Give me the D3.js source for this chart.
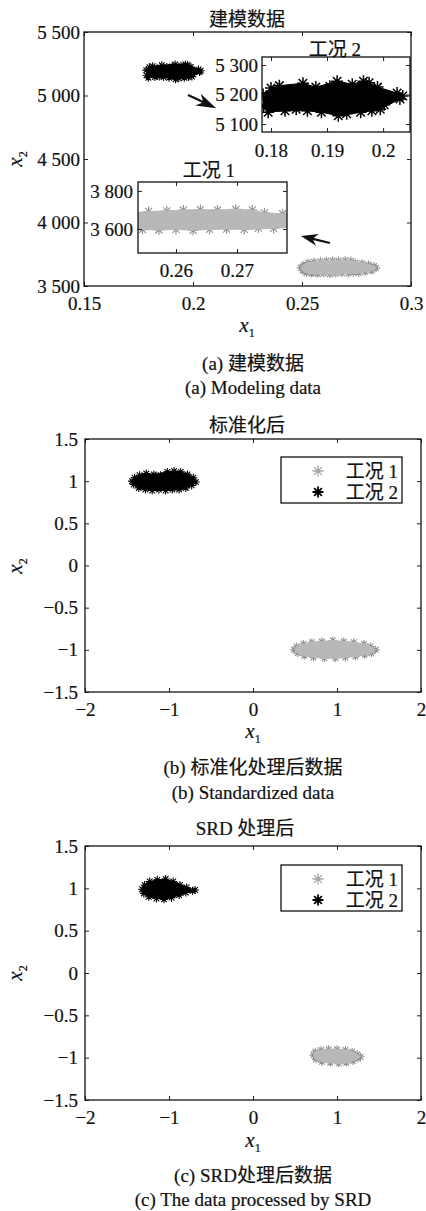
<!DOCTYPE html>
<html>
<head>
<meta charset="utf-8">
<script src="https://cdn.jsdelivr.net/npm/d3@7"></script>
<style>
body { margin: 0; background: #fff; }
svg text { font-family: "Liberation Serif", "Noto Sans CJK SC", serif; font-size: 19px; fill: #111; stroke: #111; stroke-width: 0.2px; }
</style>
</head>
<body>
<div id="chart"></div>
<script>
// --- data, [x1, x2] ---
// (a) modeling data, raw units
var rawCase1 = [
  [0.2495, 3645], [0.2503, 3620], [0.2508, 3668], [0.2520, 3603], [0.2528, 3685],
  [0.2545, 3597], [0.2555, 3692], [0.2572, 3595], [0.2585, 3695], [0.2600, 3598],
  [0.2612, 3700], [0.2628, 3593], [0.2640, 3702], [0.2655, 3598], [0.2668, 3700],
  [0.2683, 3600], [0.2698, 3703], [0.2712, 3598], [0.2725, 3700], [0.2735, 3605],
  [0.2745, 3685], [0.2760, 3603], [0.2775, 3680], [0.2790, 3610], [0.2805, 3670],
  [0.2820, 3620], [0.2830, 3658], [0.2840, 3640],
  [0.2530, 3645], [0.2560, 3650], [0.2590, 3640], [0.2620, 3655], [0.2650, 3645],
  [0.2680, 3655], [0.2710, 3650], [0.2740, 3645], [0.2770, 3640], [0.2800, 3642],
  [0.2575, 3670], [0.2635, 3620], [0.2695, 3675], [0.2725, 3625], [0.2660, 3678],
  [0.2605, 3672]
];
var rawCase2 = [
  [0.1786, 5200], [0.1787, 5160], [0.1795, 5140], [0.1800, 5222], [0.1815, 5230],
  [0.1825, 5145], [0.1835, 5215], [0.1845, 5150], [0.1857, 5238], [0.1865, 5145],
  [0.1880, 5225], [0.1890, 5140], [0.1905, 5228], [0.1918, 5245], [0.1920, 5128],
  [0.1935, 5135], [0.1945, 5235], [0.1960, 5140], [0.1965, 5245], [0.1980, 5145],
  [0.1975, 5240], [0.1990, 5225], [0.1995, 5150], [0.2005, 5185], [0.2002, 5165],
  [0.2025, 5205], [0.2035, 5195], [0.2030, 5185],
  [0.1810, 5180], [0.1840, 5190], [0.1870, 5185], [0.1900, 5190], [0.1930, 5195],
  [0.1950, 5185], [0.1970, 5200], [0.1990, 5190], [0.1920, 5170], [0.1960, 5170],
  [0.1860, 5205], [0.1940, 5215], [0.1820, 5200], [0.1890, 5170], [0.1985, 5170]
];
// (b) after standardization
var stdCase1 = [
  [0.49, -1.00], [0.52, -0.96], [0.53, -1.04], [0.60, -0.93], [0.61, -1.07],
  [0.70, -0.91], [0.72, -1.09], [0.82, -0.90], [0.85, -1.10], [0.95, -0.89],
  [0.98, -1.10], [1.08, -0.90], [1.10, -1.09], [1.20, -0.91], [1.22, -1.08],
  [1.32, -0.93], [1.33, -1.06], [1.40, -0.96], [1.41, -1.04], [1.46, -1.00],
  [0.65, -1.00], [0.80, -1.00], [0.95, -1.00], [1.10, -1.00], [1.25, -1.00],
  [0.88, -0.96], [1.02, -1.04], [1.15, -0.95]
];
var stdCase2 = [
  [-1.44, 1.00], [-1.42, 0.96], [-1.41, 1.04], [-1.36, 0.92], [-1.35, 1.07],
  [-1.28, 0.90], [-1.27, 1.09], [-1.20, 0.89], [-1.18, 1.08], [-1.12, 0.90],
  [-1.10, 1.07], [-1.04, 0.89], [-1.02, 1.11], [-0.96, 0.90], [-0.94, 1.12],
  [-0.88, 0.90], [-0.86, 1.11], [-0.80, 0.92], [-0.78, 1.08], [-0.73, 0.95],
  [-0.71, 1.04], [-0.68, 0.99],
  [-1.30, 1.00], [-1.15, 0.99], [-1.00, 1.00], [-0.85, 1.01], [-1.22, 1.03],
  [-0.92, 0.96], [-1.08, 0.95], [-0.80, 1.02]
];
// (c) after SRD
var srdCase1 = [
  [0.72, -0.97], [0.74, -0.93], [0.75, -1.02], [0.81, -0.91], [0.82, -1.05],
  [0.90, -0.90], [0.92, -1.06], [1.00, -0.90], [1.02, -1.07], [1.10, -0.91],
  [1.11, -1.06], [1.18, -0.93], [1.19, -1.04], [1.24, -0.96], [1.25, -1.01],
  [1.28, -0.99],
  [0.85, -0.98], [0.98, -0.98], [1.10, -0.99], [0.95, -0.95], [1.05, -1.02]
];
var srdCase2 = [
  [-1.32, 0.99], [-1.30, 0.94], [-1.29, 1.04], [-1.24, 0.90], [-1.23, 1.08],
  [-1.15, 0.88], [-1.14, 1.10], [-1.06, 0.87], [-1.04, 1.11], [-0.97, 0.89],
  [-0.95, 1.08], [-0.88, 0.92], [-0.87, 1.04], [-0.80, 0.95], [-0.79, 1.01],
  [-0.72, 0.97], [-0.69, 0.98],
  [-1.20, 0.99], [-1.10, 1.00], [-1.00, 0.99], [-0.92, 0.98], [-1.15, 1.04],
  [-1.05, 0.94]
];

// tick values
var rawTicksX = [0.15, 0.2, 0.25, 0.3];
var rawTicksY = [3500, 4000, 4500, 5000, 5500];
var zoom1TicksX = [0.26, 0.27];
var zoom1TicksY = [3600, 3800];
var zoom2TicksX = [0.18, 0.19, 0.2];
var zoom2TicksY = [5100, 5200, 5300];
var normTicksX = [-2, -1, 0, 1, 2];
var normTicksY = [-1.5, -1, -0.5, 0, 0.5, 1, 1.5];

var caseNames = ['工况 1', '工况 2'];

var GRAY = {fill: '#b8b8b8', stroke: '#8e8e8e', r: 4, w: 1.1};
var BLACK = {fill: '#000', stroke: '#000', r: 4, w: 1.1};

var svg = d3.select('#chart').append('svg')
    .attr('width', 426)
    .attr('height', 1211);

var numFmt = d3.format('');
var spaceFmt = function(d){ return d3.format(',')(d).replace(',', ' '); };
var blank = function(){ return ''; };

function starPath(r){
    var k = r * 0.7071;
    return 'M' + (-r) + ',0L' + r + ',0M0,' + (-r) + 'L0,' + r +
        'M' + (-k) + ',' + (-k) + 'L' + k + ',' + k +
        'M' + (-k) + ',' + k + 'L' + k + ',' + (-k);
}

// asterisks first, then a fill over the Delaunay triangles whose edges are short,
// so only the spikes of the outer markers stick out
function drawCloud(g, data, xs, ys, style, maxEdge){
    var pts = data.map(function(d){ return [xs(d[0]), ys(d[1])]; });
    g.selectAll(null)
        .data(pts)
        .enter()
        .append('path')
        .attr('transform', function(d){ return 'translate(' + d[0] + ',' + d[1] + ')'; })
        .attr('d', starPath(style.r))
        .attr('fill', 'none')
        .attr('stroke', style.stroke)
        .attr('stroke-width', style.w);
    var tri = d3.Delaunay.from(pts).triangles, d = '';
    for (var i = 0; i < tri.length; i += 3){
        var a = pts[tri[i]], b = pts[tri[i + 1]], c = pts[tri[i + 2]];
        var m = Math.max(Math.hypot(a[0] - b[0], a[1] - b[1]),
                         Math.hypot(b[0] - c[0], b[1] - c[1]),
                         Math.hypot(c[0] - a[0], c[1] - a[1]));
        if (m < maxEdge) d += 'M' + a + 'L' + b + 'L' + c + 'Z';
    }
    g.append('path')
        .attr('d', d)
        .attr('fill', style.fill)
        .attr('stroke', style.fill)
        .attr('stroke-width', 1)
        .attr('stroke-linejoin', 'round');
}

// box with inward ticks on all four sides
function drawFrame(g, xs, ys, tx, ty, fx, fy, padX, padY){
    var xr = xs.range(), yr = ys.range();
    g.append('g').attr('transform', 'translate(0,' + yr[0] + ')')
        .call(d3.axisBottom(xs).tickValues(tx).tickFormat(fx).tickSizeInner(-4).tickSizeOuter(0).tickPadding(padX));
    g.append('g').attr('transform', 'translate(0,' + yr[1] + ')')
        .call(d3.axisTop(xs).tickValues(tx).tickFormat(blank).tickSizeInner(-4).tickSizeOuter(0));
    g.append('g').attr('transform', 'translate(' + xr[0] + ',0)')
        .call(d3.axisLeft(ys).tickValues(ty).tickFormat(fy).tickSizeInner(-4).tickSizeOuter(0).tickPadding(padY));
    g.append('g').attr('transform', 'translate(' + xr[1] + ',0)')
        .call(d3.axisRight(ys).tickValues(ty).tickFormat(blank).tickSizeInner(-4).tickSizeOuter(0));
    g.selectAll('.domain').remove();
    g.selectAll('.tick line').attr('stroke', '#222');
    g.selectAll('g').attr('font-family', null).attr('font-size', null);
    g.selectAll('.tick text').attr('fill', '#111');
    g.append('rect')
        .attr('x', xr[0]).attr('y', yr[1])
        .attr('width', xr[1] - xr[0]).attr('height', yr[0] - yr[1])
        .attr('fill', 'none').attr('stroke', '#111').attr('stroke-width', 1.3);
}

function label(x, y, str){
    return svg.append('text').attr('x', x).attr('y', y).attr('text-anchor', 'middle').text(str);
}

function axisName(x, y, sub, rotate){
    var t = svg.append('text').attr('text-anchor', 'middle')
        .attr('transform', 'translate(' + x + ',' + y + ')' + (rotate ? ' rotate(-90)' : ''));
    t.append('tspan').attr('font-style', 'italic').attr('font-size', '21px').text('x');
    t.append('tspan').attr('font-size', '12px').attr('dy', 5).text(sub);
}

function arrow(xs, ys, from, to, len, wid){
    var x0 = xs(from[0]), y0 = ys(from[1]), x1 = xs(to[0]), y1 = ys(to[1]);
    var a = Math.atan2(y1 - y0, x1 - x0) * 180 / Math.PI;
    var g = svg.append('g').attr('transform', 'translate(' + x1 + ',' + y1 + ') rotate(' + a + ')');
    var L = Math.hypot(x1 - x0, y1 - y0);
    g.append('line').attr('x1', -L).attr('x2', -len * 0.6).attr('y1', 0).attr('y2', 0)
        .attr('stroke', '#111').attr('stroke-width', 2.2);
    g.append('path')
        .attr('d', 'M0,0L' + (-len) + ',' + (-wid / 2) + 'L' + (-len * 0.7) + ',0L' + (-len) + ',' + (wid / 2) + 'Z')
        .attr('fill', '#111');
}

function legend(x, y){
    var g = svg.append('g');
    g.append('rect').attr('x', x).attr('y', y).attr('width', 121).attr('height', 46)
        .attr('fill', '#fff').attr('stroke', '#111').attr('stroke-width', 1.3);
    [GRAY, BLACK].forEach(function(s, i){
        g.append('path')
            .attr('transform', 'translate(' + (x + 37) + ',' + (y + 14 + i * 21) + ')')
            .attr('d', starPath(5.5))
            .attr('fill', 'none')
            .attr('stroke', i ? '#000' : '#a3a3a3')
            .attr('stroke-width', i ? 1.8 : 1.3);
        g.append('text').attr('x', x + 117).attr('y', y + 21 + i * 21)
            .attr('text-anchor', 'end').text(caseNames[i]);
    });
}

// ---------- (a) modeling data ----------
var ax = d3.scaleLinear().domain([0.15, 0.3]).range([84, 411]);
var ay = d3.scaleLinear().domain([3500, 5500]).range([286, 32]);
var ga = svg.append('g');
drawCloud(ga, rawCase2, ax, ay, BLACK, 20);
drawCloud(ga, rawCase1, ax, ay, GRAY, 20);
drawFrame(ga, ax, ay, rawTicksX, rawTicksY, numFmt, spaceFmt, 10.5, 4);
label(247, 26, '建模数据');
axisName(22, 159, '2', true);
axisName(247, 332, '1', false);
label(253, 370, '(a) 建模数据');
label(253, 394, '(a) Modeling data');

arrow(ax, ay, [0.1977, 5004], [0.2106, 4900], 20, 13);
arrow(ax, ay, [0.2628, 3839], [0.2495, 3894], 17, 12);

// inset: case 2
var i2x = d3.scaleLinear().domain([0.1784, 0.2048]).range([262, 410]);
var i2y = d3.scaleLinear().domain([5073, 5327]).range([132, 57]);
var gi2 = svg.append('g');
gi2.append('rect').attr('x', 262).attr('y', 57).attr('width', 148).attr('height', 75).attr('fill', '#fff');
svg.append('clipPath').attr('id', 'clip2').append('rect').attr('x', 262).attr('y', 57).attr('width', 148).attr('height', 75);
drawCloud(gi2.append('g').attr('clip-path', 'url(#clip2)'), rawCase2, i2x, i2y,
    {fill: '#000', stroke: '#000', r: 6, w: 1.5}, 26);
drawFrame(gi2, i2x, i2y, zoom2TicksX, zoom2TicksY, numFmt, spaceFmt, 11.5, 4);
label(335, 56, '工况 2');

// inset: case 1
var i1x = d3.scaleLinear().domain([0.25377, 0.2782]).range([138, 287]);
var i1y = d3.scaleLinear().domain([3474, 3847]).range([253, 182]);
var gi1 = svg.append('g');
gi1.append('rect').attr('x', 138).attr('y', 182).attr('width', 149).attr('height', 71).attr('fill', '#fff');
svg.append('clipPath').attr('id', 'clip1').append('rect').attr('x', 138).attr('y', 182).attr('width', 149).attr('height', 71);
drawCloud(gi1.append('g').attr('clip-path', 'url(#clip1)'), rawCase1, i1x, i1y,
    {fill: '#b8b8b8', stroke: '#8e8e8e', r: 5, w: 1.1}, 30);
drawFrame(gi1, i1x, i1y, zoom1TicksX, zoom1TicksY, numFmt, spaceFmt, 10.5, 5);
label(209, 177, '工况 1');

// ---------- (b) standardized ----------
var bx = d3.scaleLinear().domain([-2, 2]).range([85, 421]);
var by = d3.scaleLinear().domain([-1.5, 1.5]).range([692, 439]);
var gb = svg.append('g');
drawCloud(gb, stdCase2, bx, by, BLACK, 20);
drawCloud(gb, stdCase1, bx, by, GRAY, 20);
drawFrame(gb, bx, by, normTicksX, normTicksY, numFmt, numFmt, 10.5, 7);
legend(281, 457);
label(247, 432, '标准化后');
axisName(22, 566, '2', true);
axisName(253, 738, '1', false);
label(253, 774, '(b) 标准化处理后数据');
label(253, 799, '(b) Standardized data');

// ---------- (c) after SRD ----------
var cx = d3.scaleLinear().domain([-2, 2]).range([85, 421]);
var cy = d3.scaleLinear().domain([-1.5, 1.5]).range([1100, 846]);
var gc = svg.append('g');
drawCloud(gc, srdCase2, cx, cy, BLACK, 20);
drawCloud(gc, srdCase1, cx, cy, GRAY, 20);
drawFrame(gc, cx, cy, normTicksX, normTicksY, numFmt, numFmt, 10.5, 7);
legend(281, 865);
label(245, 835, 'SRD 处理后');
axisName(22, 973, '2', true);
axisName(253, 1147, '1', false);
label(253, 1182, '(c) SRD处理后数据');
label(253, 1206, '(c) The data processed by SRD');
</script>
</body>
</html>
